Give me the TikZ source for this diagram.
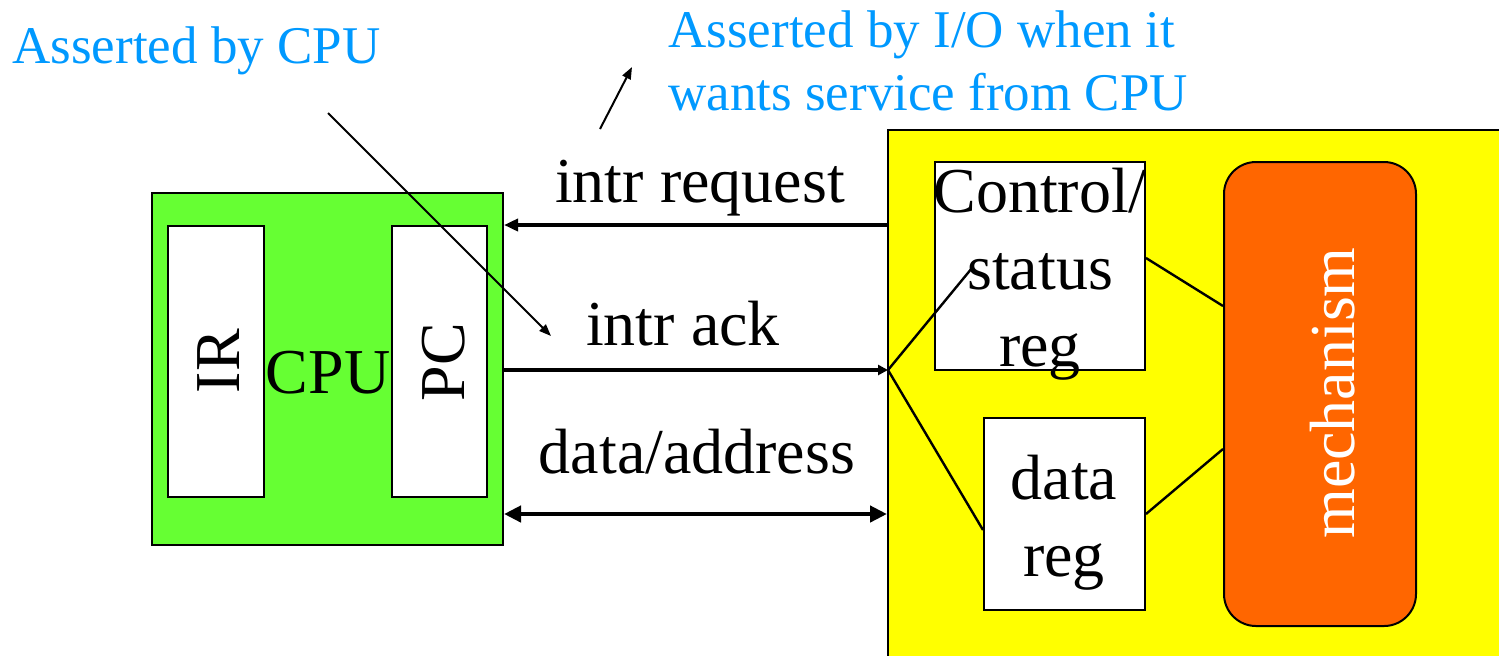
\documentclass[tikz,border=0pt]{standalone}
\usepackage{fontspec}
\setmainfont{Liberation Serif}
\usetikzlibrary{arrows.meta}

\definecolor{cpugreen}{RGB}{102,255,51}
\definecolor{ioyellow}{RGB}{255,255,0}
\definecolor{mechorange}{RGB}{255,102,0}
\definecolor{noteblue}{RGB}{0,153,255}

\begin{document}
\begin{tikzpicture}[x=0.5pt,y=-0.5pt,
  box/.style={draw=black, line width=1pt, inner sep=0pt},
  regbox/.style={box, fill=white},
  big/.style={font=\fontsize{32}{38.5}\selectfont, inner sep=0pt},
  note/.style={font=\fontsize{26.5}{31.5}\selectfont, text=noteblue, inner sep=0pt},
  bus/.style={line width=2.4pt},
  wire/.style={line width=1.2pt},
  pointer/.style={line width=1pt, -{Triangle[length=6pt, width=4.5pt]}}
]
\useasboundingbox (0,0) rectangle (1499,655);

% CPU block
\node[box, fill=cpugreen, minimum width=175.5pt, minimum height=176pt] (cpu) at (327.5,369) {};
\node[regbox, minimum width=48pt, minimum height=135.5pt] (ir) at (216,361.5) {};
\node[regbox, minimum width=47.5pt, minimum height=135.5pt] (pc) at (439.5,361.5) {};
\node[big, anchor=base, rotate=90] (irtext) at (239,361) {IR};
\node[big, anchor=base] (cputext) at (328,393) {CPU};
\node[big, anchor=base, rotate=90] (pctext) at (464,362) {PC};

% I/O device block
\node[box, fill=ioyellow, minimum width=316pt, minimum height=275pt] (io) at (1204,405) {};
\node[regbox, minimum width=105pt, minimum height=104pt] (ctrl) at (1040,266) {};
\node[regbox, minimum width=80.5pt, minimum height=96pt] (datareg) at (1064.5,514) {};
\node[box, fill=mechorange, rounded corners=16pt, minimum width=96pt, minimum height=232pt] (mech) at (1320,394) {};
\node[big, align=center, anchor=base] (ctrltext) at (1040,366) {Control/\\status\\reg};
\node[big, align=center, anchor=base] (datatext) at (1064,576) {data\\reg};
\node[big, anchor=base, rotate=90, text=white] (mechtext) at (1354,393) {mechanism};

% bus signals
\coordinate (tap) at (888,370);
\coordinate (ctrlend) at (972,268);
\draw[bus, -{Triangle[length=7pt, width=6pt]}] (io.west |- ir.north) -- (cpu.east |- ir.north);
\draw[bus, -{Triangle[length=5pt, width=5pt]}] (cpu.east |- tap) -- (tap);
\draw[bus, {Triangle[length=8.5pt, width=8pt]}-{Triangle[length=8.5pt, width=8pt]}]
  (cpu.east |- 0,514) -- (io.west |- 0,514);
\node[big, anchor=base] (reqtext) at (700,202) {intr request};
\node[big, anchor=base] (acktext) at (683,345) {intr ack};
\node[big, anchor=base] (datatext2) at (697,473) {data/address};

% fan-out inside the device
\draw[wire] (tap) -- (ctrlend);
\draw[wire] (tap) -- (datareg.west |- 0,530);
\draw[wire] (ctrl.east |- 0,258) -- (mech.west |- 0,306);
\draw[wire] (datareg.east |- 0,514) -- (mech.west |- 0,449);

% annotations
\node[note, anchor=base west] (cpunote) at (12,63) {Asserted by CPU};
\node[note, anchor=base west, align=left] (ionote) at (668,110) {Asserted by I/O when it\\wants service from CPU};
\coordinate (cpunoteA) at (328,113);
\coordinate (cpunoteB) at (551,336);
\coordinate (ionoteA) at (600,129);
\coordinate (ionoteB) at (632,67);
\draw[pointer] (cpunoteA) -- (cpunoteB);
\draw[pointer] (ionoteA) -- (ionoteB);
\end{tikzpicture}
\end{document}
